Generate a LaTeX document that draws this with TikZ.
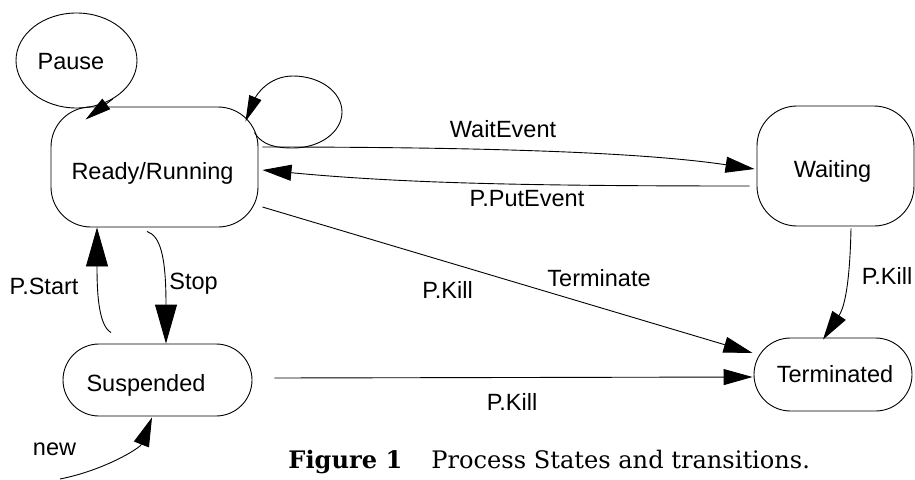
\documentclass[tikz,border=0pt]{standalone}
\usepackage{fontspec}
\setmainfont{Liberation Sans}
\newfontfamily\capfont{DejaVu Serif}
\usetikzlibrary{arrows.meta,shapes.geometric,calc}

\begin{document}
\begin{tikzpicture}[x=1pt,y=-1pt,line width=0.9pt,
  font=\fontsize{23.5}{28}\selectfont,
  box/.style={draw,rectangle,inner sep=0pt},
  txt/.style={inner sep=0pt,anchor=base},
  tip/.style={-{Triangle[length=29pt,width=16pt]}},
  bigtip/.style={-{Triangle[length=39pt,width=22pt]}},
  smalltip/.style={-{Triangle[length=26pt,width=13pt]}}]
\useasboundingbox (0,0) rectangle (915,479);

% states
\node[draw,ellipse,inner sep=0pt,minimum width=121pt,minimum height=95pt] (pause) at (76.5,60.5) {};
\node[box,rounded corners=40pt,minimum width=207pt,minimum height=120pt] (ready) at (154.5,167) {};
\node[box,rounded corners=40pt,minimum width=157pt,minimum height=120pt] (waiting) at (835.5,166) {};
\node[box,rounded corners=36pt,minimum width=189pt,minimum height=72pt] (susp) at (157.5,380) {};
\node[box,rounded corners=36.5pt,minimum width=158pt,minimum height=73pt] (term) at (833,374.5) {};

% state names
\node[txt] (pause-t) at (71,69) {Pause};
\node[txt] (ready-t) at (152.5,179) {Ready/Running};
\node[txt] (waiting-t) at (832.5,177) {Waiting};
\node[txt] (susp-t) at (146,391) {Suspended};
\node[txt] (term-t) at (835,382) {Terminated};

% end points of the free-standing connectors
\coordinate (loopA) at ($(ready.north east)+(-4,26)$);
\coordinate (loopB) at ($(ready.north east)+(-13,15)$);
\coordinate (newstart) at (60,479);

% transitions
\draw[smalltip] (pause.-47) -- ($(ready.north west)+(35,13)$);
\draw[smalltip] (loopA) .. controls (262,145) and (275,148) .. (293,148)
  .. controls (320,148) and (342,132) .. (342,112)
  .. controls (342,92) and (320,76) .. (293,76)
  .. controls (268,76) and (256,96) .. (loopB);
\draw[tip] ($(ready.east)+(4,-20)$) .. controls (480,147) and (640,152) .. ($(waiting.west)+(-2,3)$);
\draw[tip] ($(waiting.west)+(-7,20)$) .. controls (520,186) and (400,183) .. ($(ready.east)+(4,3)$);
\draw[tip] ($(ready.east)+(4,40)$) -- ($(term.west)+(-1,-21.5)$);
\draw[tip] ($(susp.east)+(22,-2)$) -- ($(term.west)+(-1,2.5)$);
\draw[tip] ($(waiting.south)+(15.5,2)$) .. controls (850,275) and (846,305) .. ($(term.north)+(-10,2)$);
\draw[bigtip] ($(ready.south)+(-7.5,4)$) .. controls (160,236) and (166,255) .. ($(susp.north)+(8.5,0)$);
\draw[bigtip] ($(susp.north)+(-46.5,-11)$) .. controls (98,325) and (97,290) .. ($(ready.south)+(-57.5,0)$);
\draw[tip] (newstart) .. controls (105,470) and (140,448) .. ($(susp.south)+(-5.5,1)$);

% transition labels
\node[txt] (l-wait) at (503,137) {WaitEvent};
\node[txt] (l-put) at (527,206) {P.PutEvent};
\node[txt] (l-term) at (599,286) {Terminate};
\node[txt] (l-kill1) at (447.5,298) {P.Kill};
\node[txt] (l-kill2) at (512,410) {P.Kill};
\node[txt] (l-kill3) at (887,284) {P.Kill};
\node[txt] (l-stop) at (193.5,289) {Stop};
\node[txt] (l-start) at (44,294) {P.Start};
\node[txt] (l-new) at (54.5,455) {new};

% caption
\node[inner sep=0pt,anchor=base west,font=\capfont\bfseries\fontsize{24.1}{28}\selectfont] (cap1) at (288,468) {Figure 1};
\node[inner sep=0pt,anchor=base west,font=\capfont\fontsize{24.1}{28}\selectfont] (cap2) at (431,468) {Process States and transitions.};
\end{tikzpicture}
\end{document}
